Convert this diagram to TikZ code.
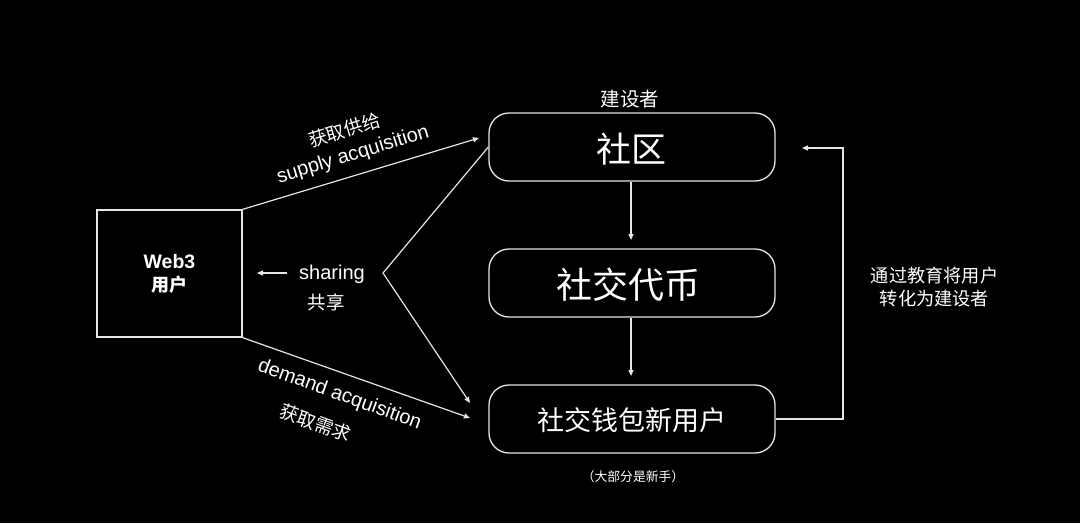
\documentclass[tikz,border=0pt]{standalone}
\usepackage{fontspec}
\setmainfont{Liberation Sans}
\newfontfamily\cjk{Noto Sans CJK SC}
\usetikzlibrary{arrows.meta}
\definecolor{ln}{HTML}{E6E6E6}
\tikzset{
  every node/.style={text=white, inner sep=0pt},
  flow/.style={draw=ln, line width=1.2pt},
  arr/.style={flow, -{Triangle[length=6pt,width=5pt]}},
  rbox/.style={draw=ln, line width=1.3pt, rounded corners=20pt, minimum width=286pt, minimum height=68pt},
  sqbox/.style={draw=ln, line width=1.3pt, minimum width=145pt, minimum height=127pt},
  lbl/.style={font=\fontsize{20}{22}\selectfont},
  clbl/.style={font=\cjk\fontsize{18.5}{21}\selectfont},
}
\begin{document}
\begin{tikzpicture}[x=1pt,y=-1pt]
\useasboundingbox[fill=black] (0,0) rectangle (1080,523);
% boxes
\node[sqbox, align=center] (web) at (169.5,273.5) {};
\node[font=\bfseries\fontsize{19.5}{22}\selectfont] (webt) at (169.5,262) {Web3};
\node[font=\cjk\bfseries\fontsize{18}{20}\selectfont] (webu) at (169.5,285) {用户};
\node[rbox] (sq) at (632,147) {};
\node[font=\cjk\fontsize{35}{38}\selectfont] (sqt) at (631,149) {社区};
\node[rbox] (tok) at (632,283) {};
\node[font=\cjk\fontsize{36}{40}\selectfont] (tokt) at (628.5,285) {社交代币};
\node[rbox] (wal) at (632,419) {};
\node[font=\cjk\fontsize{27}{30}\selectfont] (walt) at (631.5,420) {社交钱包新用户};
\node[font=\cjk\fontsize{19.5}{22}\selectfont] (bld) at (630,99) {建设者};
\node[font=\cjk\fontsize{12.8}{15}\selectfont] (nov) at (633,477) {（大部分是新手）};
% vertical arrows
\coordinate (a1e) at (631,240);
\coordinate (a2e) at (631,376);
\draw[arr] (sq.south -| a1e) -- (a1e);
\draw[arr] (tok.south -| a2e) -- (a2e);
% feedback
\coordinate (fb1) at (843,419);
\coordinate (fb2) at (843,148);
\coordinate (fb3) at (802,148);
\draw[arr] (wal.east) -- (fb1) -- (fb2) -- (fb3);
\node[font=\cjk\fontsize{18.2}{21}\selectfont, align=center] (edu) at (934.5,287) {通过教育将用户\\[2pt]转化为建设者};
% Web3 to community lines
\coordinate (sup) at (479,138);
\coordinate (dem) at (470,418);
\coordinate (tip) at (383,273);
\coordinate (shr) at (470,403);
\draw[arr] (web.north east) -- (sup);
\draw[arr] (web.south east) -- (dem);
\draw[arr] (sq.west) -- (tip) -- (shr);
% sharing
\coordinate (sh1) at (287,273);
\coordinate (sh2) at (257,273);
\draw[arr] (sh1) -- (sh2);
\node[lbl] (shl) at (332,274) {sharing};
\node[clbl] (shc) at (326,302) {共享};
% rotated labels
\node[clbl, rotate=17] (supc) at (344.5,130) {获取供给};
\node[lbl, rotate=17] (supl) at (353,155) {supply acquisition};
\node[lbl, rotate=-20] (deml) at (339.5,395) {demand acquisition};
\node[clbl, rotate=-20] (demc) at (315.5,423) {获取需求};
\end{tikzpicture}
\end{document}
